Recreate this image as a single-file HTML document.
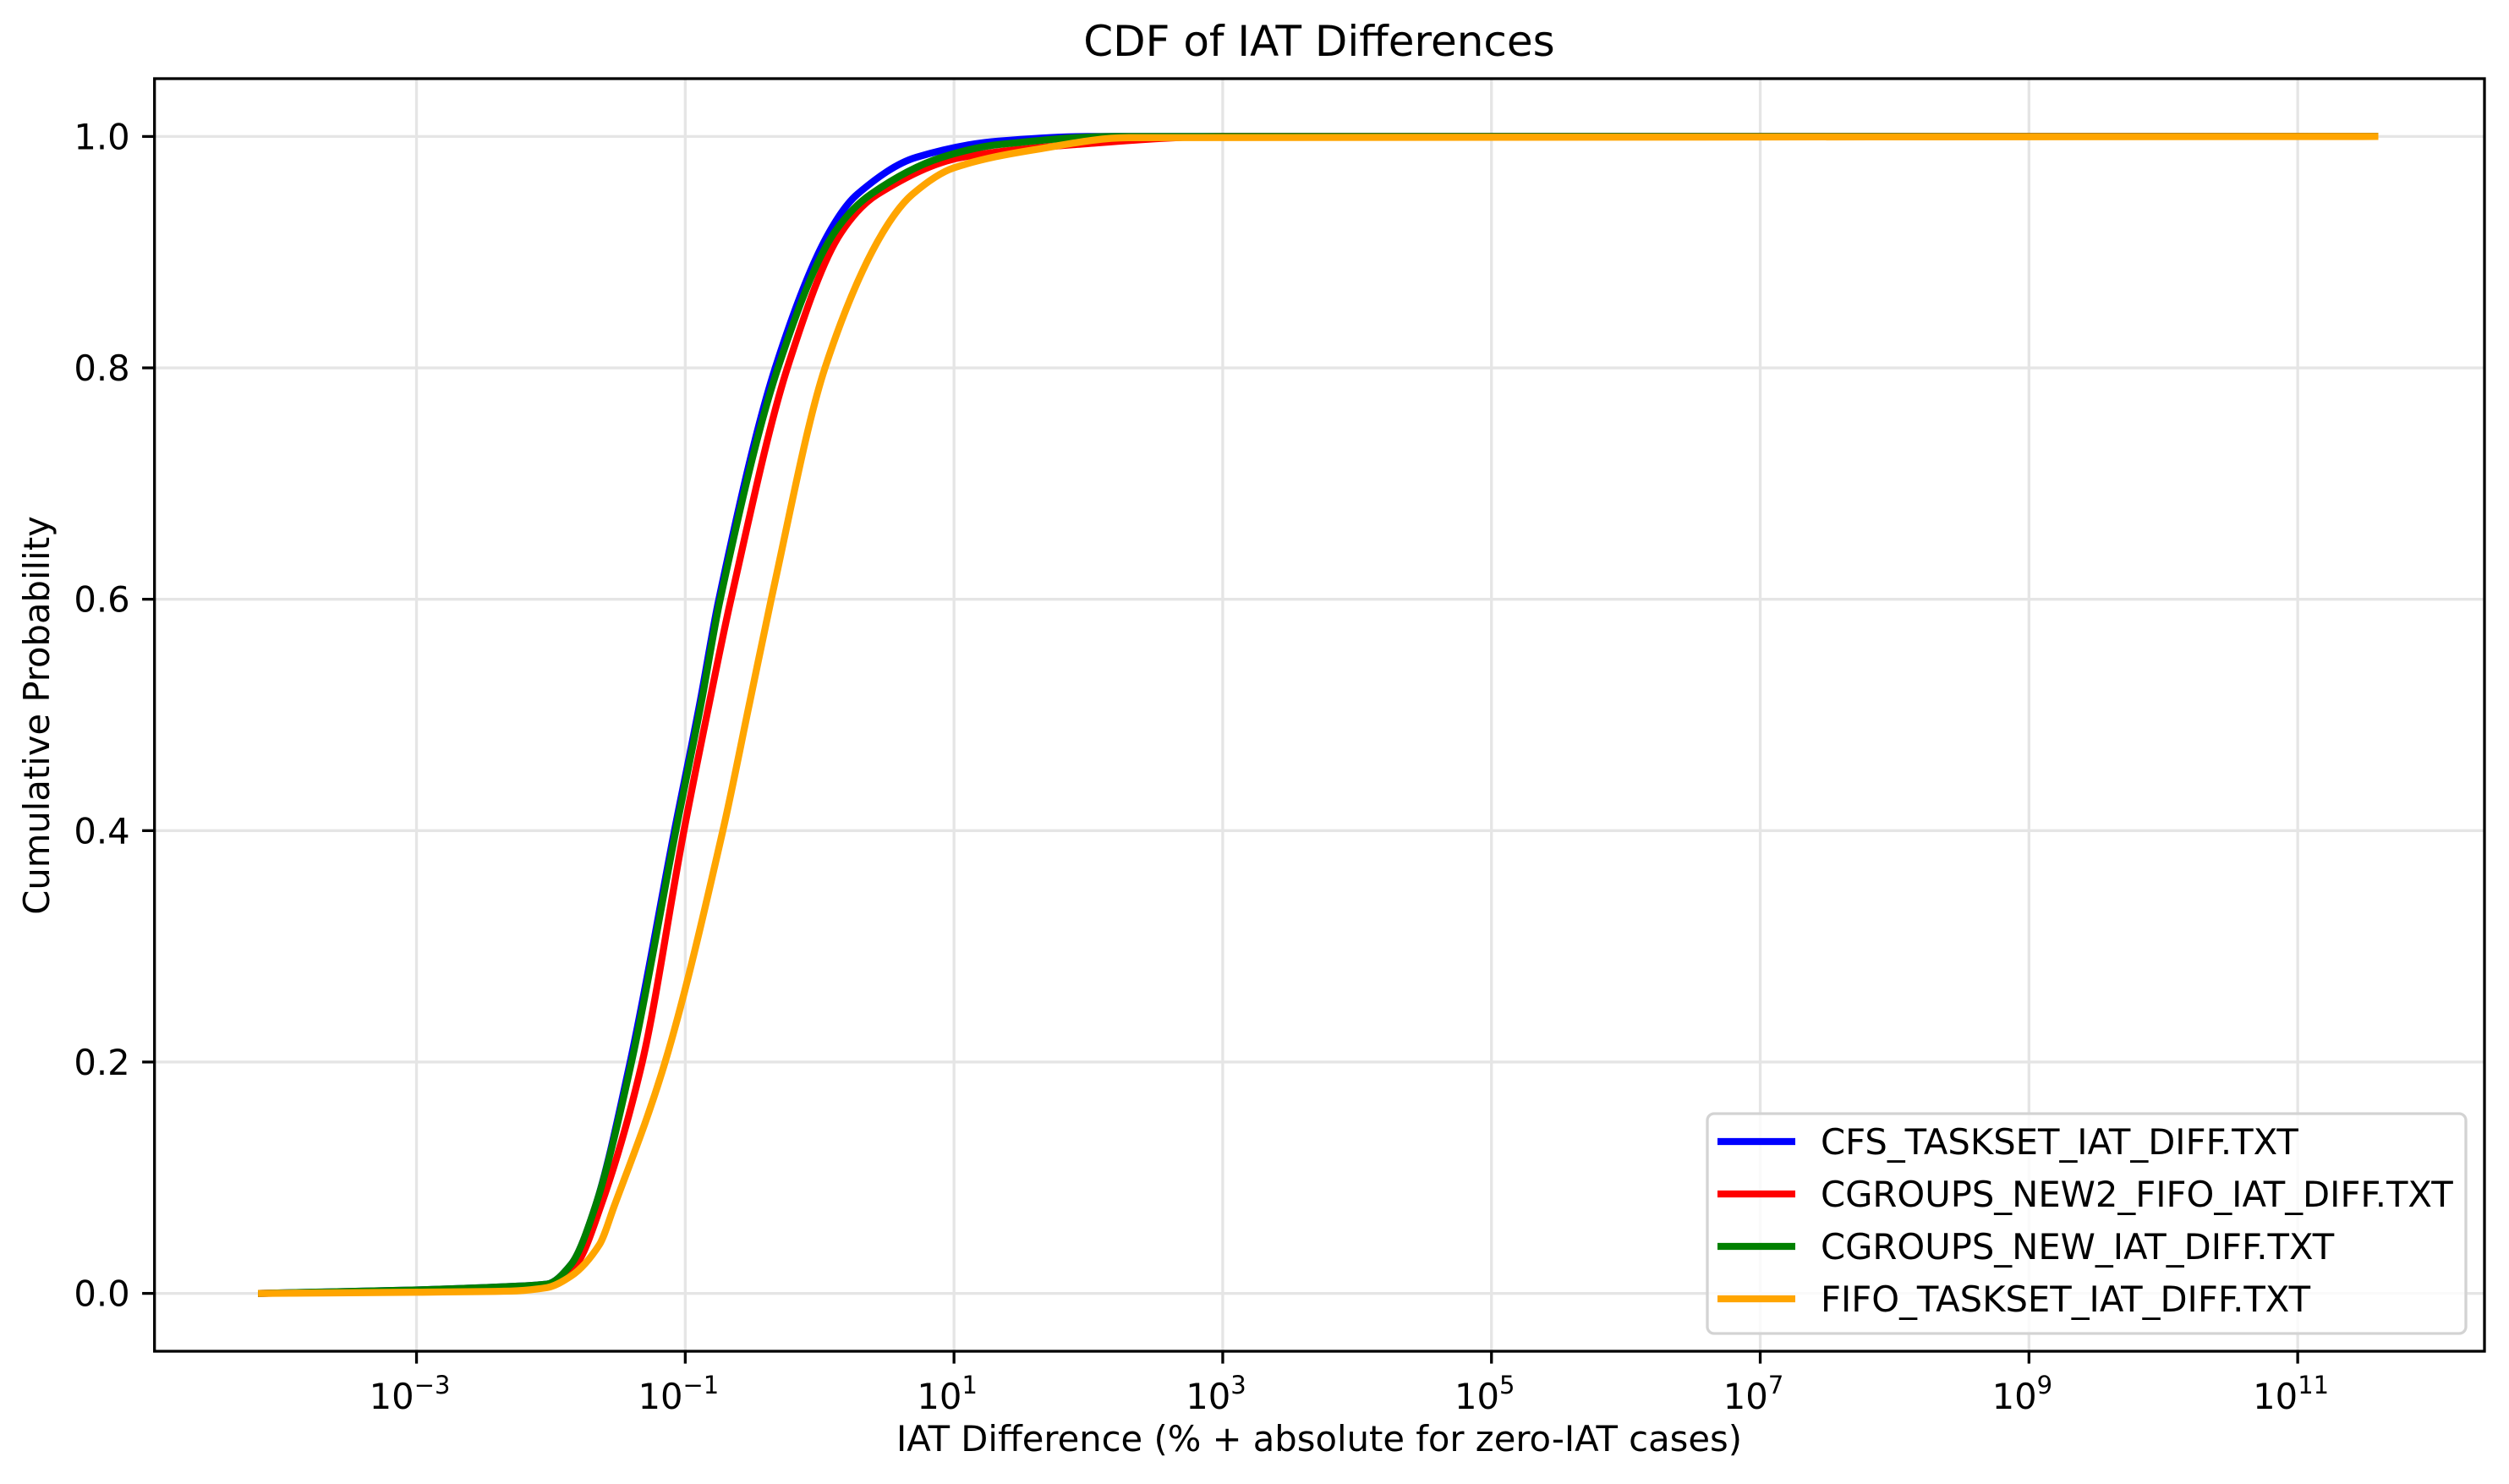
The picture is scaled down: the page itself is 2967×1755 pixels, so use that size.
<!DOCTYPE html>
<html><head><meta charset="utf-8"><style>
html,body{margin:0;padding:0;background:#fff;}
svg{display:block;font-family:"DejaVu Sans","Liberation Sans",sans-serif;}
</style></head><body>
<svg id="chart" width="2967" height="1755" viewBox="0 0 2967 1755" xmlns="http://www.w3.org/2000/svg">
<rect width="2967" height="1755" fill="#fff"/>
<text x="1560" y="66" font-size="50" text-anchor="middle">CDF of IAT Differences</text>
<g id="grid"></g>
<g id="series"></g>
<g id="axes"></g>
<text x="1560" y="1716" font-size="41.7" text-anchor="middle">IAT Difference (% + absolute for zero-IAT cases)</text>
<text transform="translate(58,846) rotate(-90)" font-size="41.7" text-anchor="middle">Cumulative Probability</text>
<g id="legend"></g>
</svg>
<script>
const seriesNames = ["CFS_TASKSET_IAT_DIFF.TXT","CGROUPS_NEW2_FIFO_IAT_DIFF.TXT","CGROUPS_NEW_IAT_DIFF.TXT","FIFO_TASKSET_IAT_DIFF.TXT"];
const seriesColors = ["#0000ff","#ff0000","#008000","#ffa500"];
// log10(x) values and CDF values
const blueX = [-4.18,-3,-2.3,-2.03,-1.85,-1.67,-1.41,-1.08,-0.89,-0.75,-0.33,0.07,0.28,0.72,1.33,2.0,11.6];
const blueY = [0,0.003,0.006,0.008,0.025,0.075,0.2,0.4,0.511,0.6,0.8,0.917,0.95,0.982,0.996,1.0,1.0];
const redX = [-4.18,-3,-2.3,-2.0,-1.81,-1.63,-1.32,-1.01,-0.82,-0.66,-0.24,0.16,0.43,1.06,1.9,3.0,11.6];
const redY = [0,0.002,0.004,0.007,0.025,0.075,0.2,0.4,0.511,0.6,0.8,0.917,0.95,0.982,0.993,1.0,1.0];
const greenX = [-4.18,-3,-2.3,-2.03,-1.85,-1.67,-1.40,-1.07,-0.88,-0.74,-0.31,0.11,0.38,0.91,1.33,2.2,11.6];
const greenY = [0,0.003,0.006,0.008,0.025,0.075,0.2,0.4,0.511,0.6,0.8,0.917,0.95,0.982,0.993,1.0,1.0];
const orangeX = [-4.18,-3,-2.3,-2.03,-1.85,-1.64,-1.53,-1.15,-0.72,-0.52,-0.36,0.04,0.47,0.69,1.0,1.62,2.3,11.6];
const orangeY = [0,0.001,0.002,0.005,0.015,0.042,0.075,0.2,0.4,0.511,0.6,0.8,0.917,0.95,0.973,0.989,0.999,1.0];
const xTickExps = [-3,-1,1,3,5,7,9,11];
const yTicks = [0.0,0.2,0.4,0.6,0.8,1.0];
const yTickLabels = ["0.0","0.2","0.4","0.6","0.8","1.0"];

const NS="http://www.w3.org/2000/svg";
const L=182.7,R=2938,T=93,B=1598;
const xMin=-4.95,xMax=12.39,yMin=-0.05,yMax=1.05;
const sx=v=>L+(v-xMin)/(xMax-xMin)*(R-L);
const sy=v=>B-(v-yMin)/(yMax-yMin)*(B-T);
function mk(tag,attrs,parent){const e=document.createElementNS(NS,tag);for(const k in attrs)e.setAttribute(k,attrs[k]);parent.appendChild(e);return e;}
function monotonePath(px,py){
  const n=px.length,d=[],m=new Array(n);
  for(let i=0;i<n-1;i++)d.push((py[i+1]-py[i])/(px[i+1]-px[i]));
  m[0]=d[0];m[n-1]=d[n-2];
  for(let i=1;i<n-1;i++){m[i]=(d[i-1]*d[i]<=0)?0:2/(1/d[i-1]+1/d[i]);}
  let s='M'+px[0].toFixed(1)+','+py[0].toFixed(1);
  for(let i=0;i<n-1;i++){
    const h=px[i+1]-px[i];
    s+='C'+(px[i]+h/3).toFixed(1)+','+(py[i]+m[i]*h/3).toFixed(1)+' '+(px[i+1]-h/3).toFixed(1)+','+(py[i+1]-m[i+1]*h/3).toFixed(1)+' '+px[i+1].toFixed(1)+','+py[i+1].toFixed(1);
  }
  return s;
}
const grid=document.getElementById('grid'),axes=document.getElementById('axes'),ser=document.getElementById('series'),leg=document.getElementById('legend');
xTickExps.forEach(e=>{
  const x=sx(e);
  const g=mk('line',{x1:x,x2:x,y1:T,y2:B,stroke:'#e5e5e5','stroke-width':3.3},grid);
  
  
  const t=mk('line',{x1:x,x2:x,y1:B,y2:B+14.6,stroke:'#000','stroke-width':3.3},axes);
  
  
  const tx=mk('text',{x:x-8,y:B+68,'font-size':41.7,'text-anchor':'middle'},axes);
  
  
  tx.textContent='10';
  const sup=mk('tspan',{dy:-18,'font-size':29},tx);
  sup.textContent=(e<0?'\u2212':'')+Math.abs(e);
});
yTicks.forEach((v,i)=>{
  const y=sy(v);
  const g=mk('line',{x1:L,x2:R,y1:y,y2:y,stroke:'#e5e5e5','stroke-width':3.3},grid);
  
  
  const t=mk('line',{x1:L-14.6,x2:L,y1:y,y2:y,stroke:'#000','stroke-width':3.3},axes);
  
  
  const tx=mk('text',{x:L-29,y:y+15,'font-size':41.7,'text-anchor':'end'},axes);
  
  
  tx.textContent=yTickLabels[i];
});
const frame=mk('rect',{x:L,y:T,width:R-L,height:B-T,fill:'none',stroke:'#000','stroke-width':3.3},axes);


const allX=[blueX,redX,greenX,orangeX],allY=[blueY,redY,greenY,orangeY];
const seriesKeys=['cfs-taskset','cgroups-new2-fifo','cgroups-new','fifo-taskset'];
allX.forEach((xs,s)=>{
  const d=monotonePath(xs.map(sx),allY[s].map(sy));
  const p=mk('path',{d:d,fill:'none',stroke:seriesColors[s],'stroke-width':8.3,'stroke-linejoin':'round'},ser);
  
  
});
const box=mk('rect',{x:2019,y:1317,width:897,height:260,rx:8,fill:'#fff','fill-opacity':0.8,stroke:'#d3d3d3','stroke-width':3.3},leg);


seriesNames.forEach((n,i)=>{
  const y=1350+i*62;
  const g=mk('g',{},leg);
  
  
  mk('line',{x1:2031,x2:2123,y1:y,y2:y,stroke:seriesColors[i],'stroke-width':8.3},g);
  const t=mk('text',{x:2153,y:y+15,'font-size':41.7},g);
  t.textContent=n;
});
</script>
</body></html>
